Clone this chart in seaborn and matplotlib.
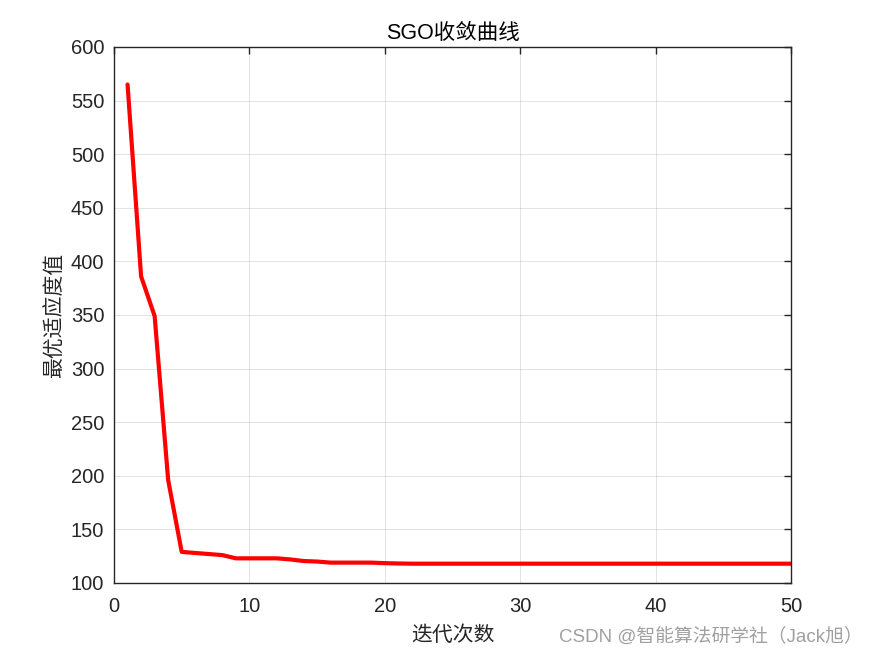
import numpy as np
import pandas as pd
import matplotlib
matplotlib.use('Agg')
import matplotlib.pyplot as plt
import seaborn as sns

# best fitness per iteration
iterations = list(range(1, 51))
best_fitness = [565, 386, 349, 196, 129, 128, 127, 126, 123, 123,
                123, 123, 122, 120.5, 120, 119, 119, 119, 119, 118.5,
                118.2, 118, 118, 118, 118, 118, 118, 118, 118, 118,
                118, 118, 118, 118, 118, 118, 118, 118, 118, 118,
                118, 118, 118, 118, 118, 118, 118, 118, 118, 118]
x_ticks = [0, 10, 20, 30, 40, 50]
y_ticks = [100, 150, 200, 250, 300, 350, 400, 450, 500, 550, 600]

df = pd.DataFrame({'iter': iterations, 'fit': best_fitness})

sns.set_style('white')
plt.rcParams['font.family'] = ['Liberation Sans', 'Noto Sans CJK SC', 'DejaVu Sans']

fig = plt.figure(figsize=(8.75, 6.56), dpi=100)
ax = fig.add_axes([0.1303, 0.1113, 0.904 - 0.1303, 0.9284 - 0.1113])

sns.lineplot(data=df, x='iter', y='fit', color='#ff0000', linewidth=3, ax=ax)

ax.set_xlim(0, 50)
ax.set_ylim(100, 600)
ax.set_xticks(x_ticks)
ax.set_yticks(y_ticks)
ax.grid(True, color='#262626', alpha=0.15, linewidth=0.6)
ax.tick_params(direction='in', top=True, right=True, length=5, width=1,
               labelsize=14.5, colors='#262626')
ax.tick_params(axis='x', pad=10)
ax.tick_params(axis='y', pad=7)
for lab in ax.get_xticklabels() + ax.get_yticklabels():
    lab.set_color('#262626')
for s in ax.spines.values():
    s.set_color('#262626')
    s.set_linewidth(1)

ax.set_title('SGO收敛曲线', fontsize=15.5, pad=6, color='black',
             family=['Liberation Sans', 'Noto Sans CJK SC'])
ax.set_xlabel('迭代次数', fontsize=15, color='#262626', labelpad=6,
              family=['Noto Sans CJK SC'], fontweight='light')
ax.set_ylabel('最优适应度值', fontsize=15, color='#262626', labelpad=4,
              family=['Noto Sans CJK SC'], fontweight='light')

fig.text(0.986, 0.030, 'CSDN @智能算法研学社（Jack旭）', ha='right', va='center',
         fontsize=13.5, color='#a0a0a0', family=['Liberation Sans', 'Noto Sans CJK SC'])

fig.savefig('out.png', dpi=100, facecolor='white')
